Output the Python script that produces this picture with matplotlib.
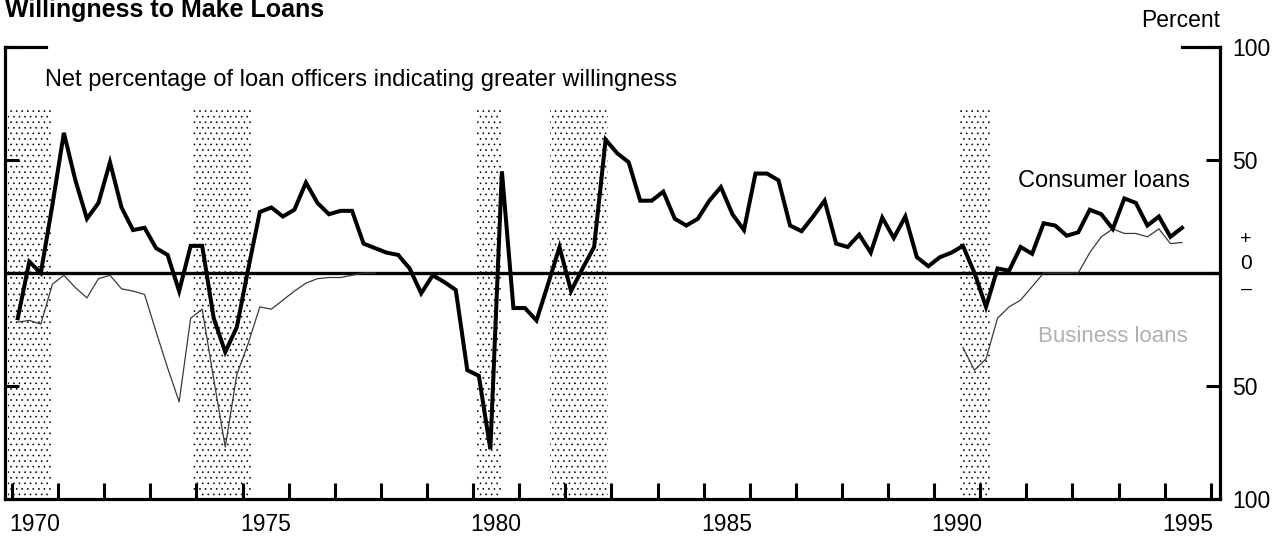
import numpy as np
import matplotlib
matplotlib.use("Agg")
import matplotlib.pyplot as plt

plt.rcParams['font.family'] = ['Liberation Sans', 'DejaVu Sans']
plt.rcParams['hatch.linewidth'] = 0.45
plt.rcParams['hatch.color'] = 'black'

# quarterly survey values, 1970Q1 .. 1995Q2 (net percent, + = more willing)
consumer = [-20, 5, 0, 30, 62, 41, 24, 31, 49, 29, 19, 20,
            11, 8, -8, 12, 12, -20, -35, -24, 2, 27, 29, 25,
            28, 40, 31, 26, 27.5, 27.5, 13, 11, 9, 8, 2, -9,
            -1, -4, -7.5, -43, -45.5, -78, 45, -15.5, -15.5, -21, -5, 11.5,
            -8, 2, 11.5, 59, 53, 49, 32, 32, 36, 24, 21, 24,
            32, 38, 26, 19, 44, 44, 41, 21, 18.5, 25, 32, 13,
            11.5, 17, 9, 24.5, 15.5, 25, 7, 3, 7, 9, 12, 0,
            -15, 2, 1, 11.5, 8.5, 22, 21, 16.5, 18, 28, 26, 19.5,
            33, 31, 21, 25, 16, 20]

nan = np.nan
business = [-21.7, -21, -22.6, -5, -1, -6.5, -11, -2.5, -1, -7, -8, -9.5,
            -26, -42, -57, -20, -16, -47, -77, -45, -31, -15, -16, -12,
            -8, -4.5, -2.5, -2, -2, -1, 0, 0, nan, nan, nan, nan,
            nan, nan, nan, nan, nan, nan, nan, nan, nan, nan, nan, nan,
            nan, nan, nan, nan, nan, nan, nan, nan, nan, nan, nan, nan,
            nan, nan, nan, nan, nan, nan, nan, nan, nan, nan, nan, nan,
            nan, nan, nan, nan, nan, nan, nan, nan, nan, nan, -33, -43,
            -38, -20, -15, -12, -6, 0, 0, 0, 0, 9, 16, 19.5,
            17.5, 17.5, 16, 19.5, 13, 13.5]

# recession periods (shaded)
rec_start = [1969.92, 1973.92, 1980.08, 1981.67, 1990.56]
rec_end = [1970.87, 1975.2, 1980.6, 1982.93, 1991.21]

year_ticks = list(range(1970, 1997))
year_labels = ['1970', '1975', '1980', '1985', '1990', '1995']

t = 1970.125 + np.arange(len(consumer)) / 4.0

fig = plt.figure(figsize=(12.88, 5.37), dpi=100)
ax = fig.add_axes([5/1288, 38/537, 1215/1288, 452/537])

for a, b in zip(rec_start, rec_end):
    ax.fill_between([a, b], -100, 73.5, facecolor='none', edgecolor='black',
                    hatch='...', linewidth=0, zorder=1)

ax.axhline(0, color='black', lw=2.4, zorder=3)
ax.plot(t, business, color='#3a3a3a', lw=0.9, zorder=4)
ax.plot(t, consumer, color='black', lw=2.9, zorder=5, solid_joinstyle='miter')

ax.set_xlim(1969.848, 1996.2)
ax.set_ylim(-100, 100)

for s in ['left', 'right', 'bottom']:
    ax.spines[s].set_linewidth(2.3)
ax.spines['top'].set_visible(False)

# short corner marks at the top
ax.plot([0, 0.034], [1, 1], transform=ax.transAxes, color='black', lw=2.3,
        clip_on=False, solid_capstyle='projecting')
ax.plot([0.969, 1], [1, 1], transform=ax.transAxes, color='black', lw=2.3,
        clip_on=False, solid_capstyle='projecting')

ax.set_xticks(year_ticks)
ax.set_xticklabels([])
ax.set_xticks([int(y) + 0.5 for y in year_labels], minor=True)
ax.set_xticklabels(year_labels, minor=True)
ax.tick_params(axis='x', which='major', direction='in', length=11.5, width=2.2)
ax.tick_params(axis='x', which='minor', length=0, pad=10, labelsize=16.5)

ax.set_yticks([-100, -50, 0, 50, 100])
ax.yaxis.tick_right()
ax.set_yticklabels(['100', '50', '', '50', '100'])
ax.tick_params(axis='y', which='major', direction='in', length=10, width=2.2,
               left=True, right=True, labelleft=False, labelright=True,
               pad=9, labelsize=16.5)

# the "+ 0 -" stack at the zero line
ytr = ax.get_yaxis_transform()
ax.text(1.0214, 15, '+', transform=ytr, ha='center', va='center', fontsize=14)
ax.text(1.0214, 4, '0', transform=ytr, ha='center', va='center', fontsize=15)
ax.text(1.0214, -7, '–', transform=ytr, ha='center', va='center', fontsize=14)

fig.text(5/1288, 1 - 17/537, 'Willingness to Make Loans', fontsize=18,
         fontweight='bold', va='baseline', ha='left')
fig.text(1220/1288, 1 - 27/537, 'Percent', fontsize=16.5, va='baseline', ha='right')
fig.text(45/1288, 1 - 86/537,
         'Net percentage of loan officers indicating greater willingness',
         fontsize=17, va='baseline', ha='left')

ax.text(1991.82, 38, 'Consumer loans', fontsize=17, va='baseline', ha='left')
ax.text(1992.26, -30.5, 'Business loans', fontsize=16, va='baseline',
        ha='left', color='#b0b0b0')

fig.savefig('out.png', dpi=100)
